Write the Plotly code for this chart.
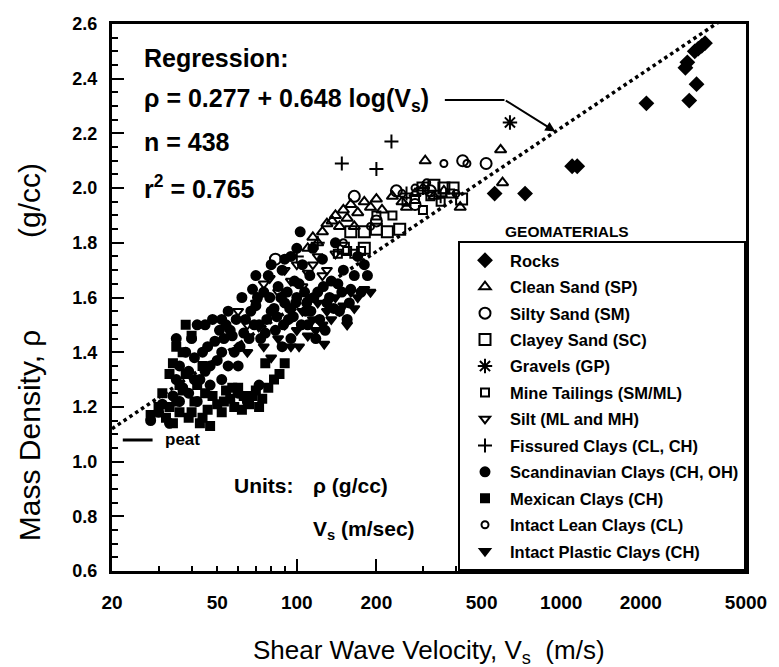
import numpy as np
import plotly.graph_objects as go

# ---------------- data (Vs in m/s, rho in g/cc) ----------------
rocks_v = [3300, 3400, 3500, 3200, 3000, 2950, 3250, 3050, 2100, 1150, 1100, 730, 560]
rocks_rho = [2.51, 2.52, 2.53, 2.50, 2.46, 2.44, 2.38, 2.32, 2.31, 2.08, 2.08, 1.98, 1.98]

clean_sand_v = [125, 130, 136, 140, 145, 150, 155, 160, 170, 180, 190, 200, 210, 230, 250,
                280, 300, 330, 360, 415, 306, 590, 600, 110, 115, 120, 165, 260]
clean_sand_rho = [1.84, 1.87, 1.88, 1.90, 1.86, 1.92, 1.89, 1.94, 1.91, 1.95, 1.93, 1.96, 1.92, 1.97, 1.95,
                  1.98, 2.00, 1.97, 1.99, 1.93, 2.10, 2.14, 2.02, 1.78, 1.82, 1.80, 1.86, 1.93]

silty_sand_v = [165, 238, 424, 83, 200, 280, 320, 520]
silty_sand_rho = [1.97, 1.99, 2.10, 1.74, 1.88, 1.94, 1.99, 2.09]

clayey_sand_v = [160, 180, 200, 220, 245, 300, 330, 360, 390, 420, 180, 150]
clayey_sand_rho = [1.84, 1.84, 1.85, 1.84, 1.85, 2.00, 2.01, 2.00, 2.00, 1.96, 1.78, 1.78]

gravels_v = [640]
gravels_rho = [2.24]

mine_tailings_v = [143, 155, 165, 175, 260, 280, 300, 320, 350, 380, 200, 230]
mine_tailings_rho = [1.76, 1.77, 1.76, 1.77, 1.95, 1.96, 1.92, 1.97, 1.95, 1.98, 1.90, 1.90]

silt_v = [70, 75, 79, 85, 90, 95, 100, 105, 110, 120, 130, 140, 60, 65, 115, 125, 88]
silt_rho = [1.58, 1.65, 1.67, 1.62, 1.70, 1.66, 1.72, 1.64, 1.69, 1.75, 1.70, 1.76, 1.55, 1.50, 1.72, 1.68, 1.60]

fissured_v = [228, 148, 200, 260, 300, 350, 120, 100]
fissured_rho = [2.17, 2.09, 2.07, 1.98, 2.00, 1.97, 1.80, 1.75]

scand_v = [28, 30, 31, 33, 34, 35, 36, 37, 38, 39, 40, 41, 42, 43, 45, 46, 47, 48, 50, 52,
           53, 55, 56, 58, 60, 62, 64, 66, 68, 70, 72, 75, 78, 80, 83, 85, 88, 90, 93, 95,
           98, 100, 103, 105, 108, 112, 115, 120, 125, 130, 135, 140, 150, 160, 170, 185,
           60, 65, 72, 110, 118, 128, 145, 155, 175, 95, 88, 76,
           44, 49, 51, 54, 57, 59, 61, 63, 67, 69, 71, 73, 77, 79, 82, 84, 87, 89, 92, 94,
           97, 99, 102, 104, 107, 109, 113, 116, 122, 126, 133, 138, 143, 148, 158, 165, 180,
           100, 90, 80, 70, 36, 39, 41, 45, 47, 52, 55, 35, 42, 52]
scand_rho = [1.15, 1.18, 1.21, 1.14, 1.24, 1.30, 1.35, 1.27, 1.40, 1.33, 1.45, 1.38, 1.22, 1.30, 1.50, 1.42, 1.35, 1.52, 1.37, 1.30,
             1.45, 1.55, 1.48, 1.40, 1.35, 1.60, 1.52, 1.45, 1.63, 1.57, 1.50, 1.62, 1.68, 1.55, 1.48, 1.64, 1.70, 1.58, 1.52, 1.75,
             1.66, 1.60, 1.84, 1.72, 1.55, 1.68, 1.78, 1.62, 1.74, 1.58, 1.66, 1.80, 1.70, 1.63, 1.75, 1.68,
             1.25, 1.22, 1.28, 1.50, 1.45, 1.48, 1.55, 1.52, 1.62, 1.45, 1.42, 1.47,
             1.40, 1.44, 1.48, 1.50, 1.46, 1.52, 1.42, 1.47, 1.55, 1.50, 1.60, 1.45, 1.52, 1.60, 1.56, 1.53, 1.60, 1.50, 1.62, 1.56,
             1.53, 1.58, 1.65, 1.50, 1.62, 1.58, 1.55, 1.60, 1.52, 1.64, 1.60, 1.56, 1.65, 1.62, 1.58, 1.68, 1.72,
             1.78, 1.74, 1.72, 1.68, 1.22, 1.25, 1.30, 1.33, 1.28, 1.40, 1.35, 1.45, 1.50, 1.52]

mexican_v = [32, 33, 34, 35, 36, 37, 38, 39, 40, 41, 42, 44, 46, 48, 50, 52, 54, 56, 58, 60,
             63, 66, 70, 74, 76, 86, 90, 33, 35, 38, 43, 47, 28, 30,
             36, 40, 45, 53, 57, 62, 68, 72, 78, 82, 44, 31, 34, 37]
mexican_rho = [1.16, 1.20, 1.14, 1.22, 1.18, 1.26, 1.32, 1.16, 1.46, 1.22, 1.28, 1.35, 1.19, 1.24, 1.21, 1.18, 1.26, 1.23, 1.20, 1.27,
               1.24, 1.21, 1.26, 1.23, 1.36, 1.32, 1.36, 1.32, 1.42, 1.50, 1.14, 1.13, 1.17, 1.20,
               1.28, 1.18, 1.25, 1.22, 1.27, 1.19, 1.24, 1.20, 1.27, 1.30, 1.16, 1.25, 1.36, 1.40]

lean_v = [360, 440, 250, 280, 310, 150, 190, 400]
lean_rho = [2.09, 2.09, 1.98, 2.00, 2.02, 1.80, 1.86, 1.98]

plastic_v = [85, 90, 95, 100, 105, 110, 115, 120, 125, 127, 130, 140, 150, 160, 170, 180, 190, 75, 80, 65,
             112, 118, 135, 145, 155, 165, 95, 102]
plastic_rho = [1.45, 1.50, 1.42, 1.48, 1.55, 1.46, 1.52, 1.58, 1.50, 1.43, 1.55, 1.60, 1.57, 1.62, 1.60, 1.63, 1.62, 1.42, 1.38, 1.40,
               1.60, 1.48, 1.52, 1.55, 1.50, 1.56, 1.55, 1.42]

reg_a, reg_b = 0.277, 0.648
x_ticks = [20, 50, 100, 200, 500, 1000, 2000, 5000]
x_minor = [30, 40, 60, 70, 80, 90, 300, 400, 600, 700, 800, 900, 3000, 4000]
x_long = [100, 200, 1000, 2000]

series = [
    ("Rocks", rocks_v, rocks_rho),
    ("Clean Sand (SP)", clean_sand_v, clean_sand_rho),
    ("Silty Sand (SM)", silty_sand_v, silty_sand_rho),
    ("Clayey Sand (SC)", clayey_sand_v, clayey_sand_rho),
    ("Gravels (GP)", gravels_v, gravels_rho),
    ("Mine Tailings (SM/ML)", mine_tailings_v, mine_tailings_rho),
    ("Silt (ML and MH)", silt_v, silt_rho),
    ("Fissured Clays (CL, CH)", fissured_v, fissured_rho),
    ("Scandinavian Clays (CH, OH)", scand_v, scand_rho),
    ("Mexican Clays (CH)", mexican_v, mexican_rho),
    ("Intact Lean Clays (CL)", lean_v, lean_rho),
    ("Intact Plastic Clays (CH)", plastic_v, plastic_rho),
]

styles = {
    "Rocks": dict(symbol="diamond", size=10),
    "Clean Sand (SP)": dict(symbol="triangle-up-open", size=10),
    "Silty Sand (SM)": dict(symbol="circle-open", size=11),
    "Clayey Sand (SC)": dict(symbol="square-open", size=11),
    "Gravels (GP)": dict(symbol="asterisk-open", size=12),
    "Mine Tailings (SM/ML)": dict(symbol="square-open", size=8),
    "Silt (ML and MH)": dict(symbol="triangle-down-open", size=9),
    "Fissured Clays (CL, CH)": dict(symbol="cross-thin-open", size=10),
    "Scandinavian Clays (CH, OH)": dict(symbol="circle", size=9),
    "Mexican Clays (CH)": dict(symbol="square", size=8),
    "Intact Lean Clays (CL)": dict(symbol="circle-open", size=7),
    "Intact Plastic Clays (CH)": dict(symbol="triangle-down", size=9),
}

FONT = "Liberation Sans, Arial, Helvetica, sans-serif"

fig = go.Figure()

# regression line
v_line = np.geomspace(20, 5000, 300)
rho_line = reg_a + reg_b * np.log10(v_line)
fig.add_trace(go.Scatter(x=v_line, y=rho_line, mode="lines",
                         line=dict(color="black", width=3.5, dash="dot"),
                         showlegend=False, hoverinfo="skip"))

for name, vs, rhos in series:
    st = styles[name]
    fig.add_trace(go.Scatter(
        x=vs, y=rhos, mode="markers", name=name, legendgroup=name,
        marker=dict(symbol=st["symbol"], size=st["size"], color="black",
                    line=dict(color="black", width=2)),
    ))

# overlay axis only for the long ticks
fig.add_trace(go.Scatter(x=[], y=[], xaxis="x2", showlegend=False, hoverinfo="skip"))

xr = [np.log10(20), np.log10(5000)]
fig.update_layout(
    width=779, height=667,
    margin=dict(l=112, r=27, t=24, b=96),
    paper_bgcolor="white", plot_bgcolor="white",
    font=dict(family=FONT, color="black"),
    xaxis=dict(type="log", range=xr, tickvals=x_ticks, ticktext=[str(t) for t in x_ticks],
               ticks="inside", ticklen=5, tickwidth=2, tickcolor="black",
               minor=dict(tickvals=x_minor, ticks="inside", ticklen=5, tickwidth=2, tickcolor="black"),
               showline=True, linewidth=3, linecolor="black", mirror=True,
               showgrid=False, zeroline=False,
               tickfont=dict(size=19, weight="bold", family=FONT),
               ticklabelstandoff=12),
    xaxis2=dict(type="log", range=xr, overlaying="x", anchor="y", side="bottom",
                tickvals=x_long, ticks="inside", ticklen=12, tickwidth=2, tickcolor="black",
                showticklabels=False, showline=False, showgrid=False, zeroline=False),
    yaxis=dict(range=[0.6, 2.6], dtick=0.2, tick0=0.6, tickformat=".1f",
               ticks="inside", ticklen=12, tickwidth=2, tickcolor="black",
               minor=dict(dtick=0.05, ticks="inside", ticklen=6, tickwidth=2, tickcolor="black"),
               showline=True, linewidth=3, linecolor="black", mirror=True,
               showgrid=False, zeroline=False,
               tickfont=dict(size=18, weight="bold", family=FONT),
               ticklabelstandoff=8),
    legend=dict(x=1, y=0, xanchor="right", yanchor="bottom",
                bordercolor="black", borderwidth=2, bgcolor="white",
                font=dict(size=16.5, weight="bold", family=FONT),
                tracegroupgap=2, traceorder="grouped", itemsizing="trace", itemwidth=40),
    showlegend=True,
)

# axis titles
fig.add_annotation(text="Shear Wave Velocity, V<sub>s</sub>\u00a0\u00a0(m/s)",
                   x=0.5, y=-0.148, xref="paper", yref="paper",
                   xanchor="center", yanchor="middle", showarrow=False,
                   font=dict(size=26, family=FONT))
fig.add_annotation(text="Mass Density, \u03c1" + "\u00a0" * 11 + "(g/cc)",
                   x=-0.131, y=0.40, xref="paper", yref="paper", textangle=-90,
                   xanchor="center", yanchor="middle", showarrow=False,
                   font=dict(size=30, family=FONT))

ann_font = dict(size=25, weight="bold", family=FONT, color="black")
texts = [
    ("Regression:", 0.048, 0.938),
    ("\u03c1 = 0.277 + 0.648 log(V<sub>s</sub>)", 0.048, 0.861),
    ("n = 438", 0.048, 0.784),
    ("r<sup>2</sup> = 0.765", 0.048, 0.702),
]
for t, x, y in texts:
    fig.add_annotation(text=t, x=x, y=y, xref="paper", yref="paper",
                       xanchor="left", yanchor="middle", showarrow=False, font=ann_font)

fig.add_annotation(text="GEOMATERIALS", x=0.617, y=0.620, xref="paper", yref="paper",
                   xanchor="left", yanchor="middle", showarrow=False,
                   font=dict(size=15.5, weight="bold", family=FONT))

fig.add_annotation(text="peat", x=0.080, y=0.2395, xref="paper", yref="paper",
                   xanchor="left", yanchor="middle", showarrow=False,
                   font=dict(size=17, weight="bold", family=FONT))
fig.add_shape(type="line", xref="paper", yref="paper", x0=0.017, x1=0.064, y0=0.2395, y1=0.2395,
              line=dict(color="black", width=3))

units_font = dict(size=21, weight="bold", family=FONT)
fig.add_annotation(text="Units:", x=0.189, y=0.157, xref="paper", yref="paper",
                   xanchor="left", yanchor="middle", showarrow=False, font=units_font)
fig.add_annotation(text="\u03c1 (g/cc)", x=0.314, y=0.157, xref="paper", yref="paper",
                   xanchor="left", yanchor="middle", showarrow=False, font=units_font)
fig.add_annotation(text="V<sub>s</sub> (m/sec)", x=0.314, y=0.075, xref="paper", yref="paper",
                   xanchor="left", yanchor="middle", showarrow=False, font=units_font)

# pointer arrow from equation to regression line
v_arrow = 950
fig.add_shape(type="line", xref="paper", yref="paper", x0=0.525, x1=0.619, y0=0.861, y1=0.861,
              line=dict(color="black", width=2))
fig.add_annotation(x=np.log10(v_arrow), y=reg_a + reg_b * np.log10(v_arrow), xref="x", yref="y",
                   ax=-51, ay=-32, text="", showarrow=True, arrowhead=2, arrowsize=1,
                   arrowwidth=2, arrowcolor="black")

fig.write_html("out.html")
